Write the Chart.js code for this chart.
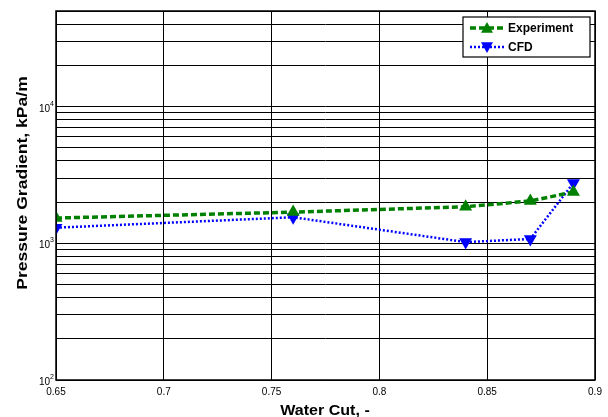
<!DOCTYPE html>
<html>
<head>
<meta charset="utf-8">
<script src="https://cdn.jsdelivr.net/npm/chart.js@4"></script>
<style>
  html, body { margin: 0; padding: 0; background: #fff; }
  #wrap { width: 608px; height: 417px; }
</style>
</head>
<body>
<div id="wrap"><canvas id="pgChart" width="608" height="417"></canvas></div>
<script>
// values
const waterCut = [0.65, 0.76, 0.84, 0.87, 0.89];
const experiment = [1530, 1690, 1850, 2040, 2370];
const cfd = [1300, 1550, 1020, 1075, 2760];
const xTicks = [0.65, 0.7, 0.75, 0.8, 0.85, 0.9];
const yGrid = [100, 200, 300, 400, 500, 600, 700, 800, 900,
  1000, 2000, 3000, 4000, 5000, 6000, 7000, 8000, 9000,
  10000, 20000, 30000, 40000, 50000];
const yDecades = [100, 1000, 10000];
const xTitle = "Water Cut, -";
const yTitle = "Pressure Gradient, kPa/m";

const FONT = "'Liberation Sans', Arial, sans-serif";

// frame, decade labels (10 with a raised exponent), axis titles, legend
const decor = {
  id: "decor",
  afterDraw(chart) {
    const c = chart.ctx;
    const a = chart.chartArea;
    const ys = chart.scales.y;
    c.save();
    c.strokeStyle = "#000";
    c.lineWidth = 1.5;
    c.strokeRect(a.left, a.top, a.right - a.left, a.bottom - a.top);

    // decade labels
    c.fillStyle = "#000";
    yDecades.forEach(v => {
      const py = ys.getPixelForValue(v);
      const exp = String(Math.round(Math.log10(v)));
      c.font = "7px " + FONT;
      c.textAlign = "left";
      c.textBaseline = "alphabetic";
      c.fillText(exp, a.left - 6, py - 1);
      c.font = "10px " + FONT;
      c.textAlign = "right";
      c.fillText("10", a.left - 6, py + 5);
    });

    // axis titles (slightly wide in the source figure)
    c.textAlign = "center";
    c.textBaseline = "alphabetic";
    c.save();
    c.font = "bold 15px " + FONT;
    c.translate(325, 414.5);
    c.scale(1.07, 1);
    c.fillText(xTitle, 0, 0);
    c.restore();
    c.save();
    c.font = "bold 15px " + FONT;
    c.translate(27, 183);
    c.rotate(-Math.PI / 2);
    c.scale(1.17, 1);
    c.fillText(yTitle, 0, 0);
    c.restore();

    // legend box, top right inside the plot
    const lx = 463, ly = 17, lw = 127, lh = 40;
    c.fillStyle = "#fff";
    c.fillRect(lx, ly, lw, lh);
    c.lineWidth = 1.2;
    c.strokeStyle = "#000";
    c.strokeRect(lx, ly, lw, lh);
    const rows = [
      { label: "Experiment", color: "#008000", dash: [6, 3], width: 3.5, up: true, y: ly + 11 },
      { label: "CFD", color: "#0000ff", dash: [2, 2], width: 2.5, up: false, y: ly + 30 }
    ];
    rows.forEach(r => {
      c.strokeStyle = r.color;
      c.lineWidth = r.width;
      c.setLineDash(r.dash);
      c.beginPath();
      c.moveTo(lx + 7, r.y);
      c.lineTo(lx + 43, r.y);
      c.stroke();
      c.setLineDash([]);
      c.fillStyle = r.color;
      c.beginPath();
      const cx = lx + 24, s = 6;
      if (r.up) {
        c.moveTo(cx, r.y - s); c.lineTo(cx + s, r.y + s * 0.8); c.lineTo(cx - s, r.y + s * 0.8);
      } else {
        c.moveTo(cx, r.y + s); c.lineTo(cx + s, r.y - s * 0.8); c.lineTo(cx - s, r.y - s * 0.8);
      }
      c.closePath();
      c.fill();
      c.fillStyle = "#000";
      c.font = "bold 12px " + FONT;
      c.textAlign = "left";
      c.textBaseline = "middle";
      c.fillText(r.label, lx + 45, r.y + 1);
    });
    c.restore();
  }
};

const ctx = document.getElementById("pgChart").getContext("2d");
const pgChart = new Chart(ctx, {
  type: "line",
  data: {
    datasets: [
      {
        label: "Experiment",
        data: waterCut.map((x, i) => ({ x: x, y: experiment[i] })),
        borderColor: "#008000",
        backgroundColor: "#008000",
        borderWidth: 3.5,
        borderDash: [6, 3],
        pointStyle: "triangle",
        pointRadius: 7.5,
        pointBorderWidth: 0,
        fill: false
      },
      {
        label: "CFD",
        data: waterCut.map((x, i) => ({ x: x, y: cfd[i] })),
        borderColor: "#0000ff",
        backgroundColor: "#0000ff",
        borderWidth: 2.5,
        borderDash: [2, 2],
        pointStyle: "triangle",
        pointRotation: 180,
        pointRadius: 7.5,
        pointBorderWidth: 0,
        fill: false
      }
    ]
  },
  options: {
    responsive: false,
    animation: false,
    layout: { padding: { top: 11, right: 13, left: 0, bottom: 0 } },
    plugins: {
      legend: { display: false },
      tooltip: { enabled: false }
    },
    scales: {
      x: {
        type: "linear",
        min: 0.65,
        max: 0.9,
        afterBuildTicks: s => { s.ticks = xTicks.map(v => ({ value: v })); },
        afterFit: s => { s.height = 37; },
        grid: { color: "#000", lineWidth: 1, drawTicks: false },
        border: { display: false },
        ticks: {
          autoSkip: false,
          maxRotation: 0,
          padding: 6,
          color: "#000",
          font: { family: FONT, size: 10 },
          callback: v => String(Math.round(v * 100) / 100)
        },
        title: { display: false }
      },
      y: {
        type: "logarithmic",
        min: 100,
        max: 50000,
        afterBuildTicks: s => { s.ticks = yGrid.map(v => ({ value: v })); },
        afterFit: s => { s.width = 56; },
        grid: { color: "#000", lineWidth: 1, drawTicks: false },
        border: { display: false },
        ticks: { display: false, autoSkip: false },
        title: { display: false }
      }
    }
  },
  plugins: [decor]
});
</script>
</body>
</html>
